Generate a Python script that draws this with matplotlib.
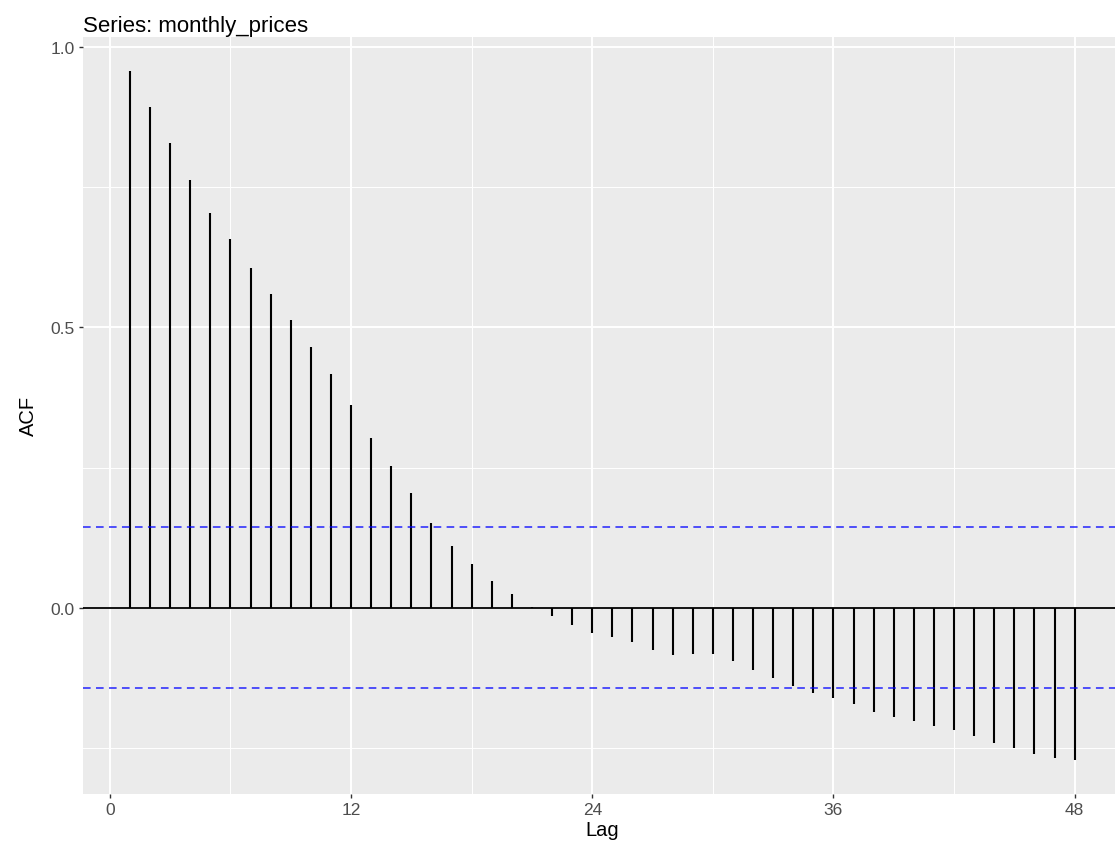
import numpy as np
import matplotlib
matplotlib.use("Agg")
import matplotlib.pyplot as plt

# ACF values (lags 1..48)
lags = list(range(1, 49))
acf_values = [
    0.957, 0.893, 0.829, 0.763, 0.705, 0.657, 0.606, 0.560, 0.514, 0.465,
    0.417, 0.362, 0.302, 0.252, 0.204, 0.151, 0.110, 0.078, 0.048, 0.025,
    0.002, -0.015, -0.031, -0.046, -0.053, -0.062, -0.076, -0.085, -0.083, -0.083,
    -0.096, -0.112, -0.126, -0.140, -0.152, -0.161, -0.172, -0.186, -0.195, -0.202,
    -0.211, -0.218, -0.229, -0.241, -0.250, -0.261, -0.268, -0.271,
]
ci_bound = 0.144
x_ticks = [0, 12, 24, 36, 48]
y_ticks = [0.0, 0.5, 1.0]
y_tick_labels = ["0.0", "0.5", "1.0"]
title = "Series: monthly_prices"

plt.rcParams['font.family'] = ['Liberation Sans', 'DejaVu Sans']

fig = plt.figure(figsize=(11.15, 8.45), dpi=100)
ax = fig.add_axes([0.0742, 0.0592, 0.932, 0.896])
ax.set_facecolor("#EBEBEB")
for s in ax.spines.values():
    s.set_visible(False)

# ggplot-style expansion
x_lo, x_hi = min(lags), max(lags)
x_pad = 0.05 * (x_hi - x_lo)
ax.set_xlim(x_lo - x_pad, x_hi + x_pad)
y_lo, y_hi = min(acf_values), max(acf_values)
y_pad = 0.05 * (y_hi - y_lo)
ax.set_ylim(y_lo - y_pad, y_hi + y_pad)

# grid
ax.set_xticks(x_ticks)
ax.set_xticks([6, 18, 30, 42], minor=True)
ax.set_yticks(y_ticks)
ax.set_yticks([-0.25, 0.25, 0.75], minor=True)
ax.grid(which='major', color='white', linewidth=1.4)
ax.grid(which='minor', color='white', linewidth=0.7)
ax.set_axisbelow(True)

ax.axhline(0, color='black', linewidth=1.3, zorder=3)
ax.vlines(lags, 0, acf_values, color='black', linewidth=1.5, zorder=3)
ax.axhline(ci_bound, color='#0000FF', linewidth=1.1, linestyle=(0, (5, 3.5)), zorder=3, alpha=0.85)
ax.axhline(-ci_bound, color='#0000FF', linewidth=1.1, linestyle=(0, (5, 3.5)), zorder=3, alpha=0.85)

ax.set_yticklabels(y_tick_labels)
ax.tick_params(which='major', length=3, width=1, color='#333333', labelcolor='#4D4D4D',
               labelsize=12.5, pad=3)
ax.tick_params(which='minor', length=0)

ax.set_xlabel("Lag", fontsize=14.5, labelpad=2)
ax.set_ylabel("ACF", fontsize=14.5, labelpad=9)
ax.set_title(title, loc='left', fontsize=16, pad=4)

fig.savefig("out.png", dpi=100)
